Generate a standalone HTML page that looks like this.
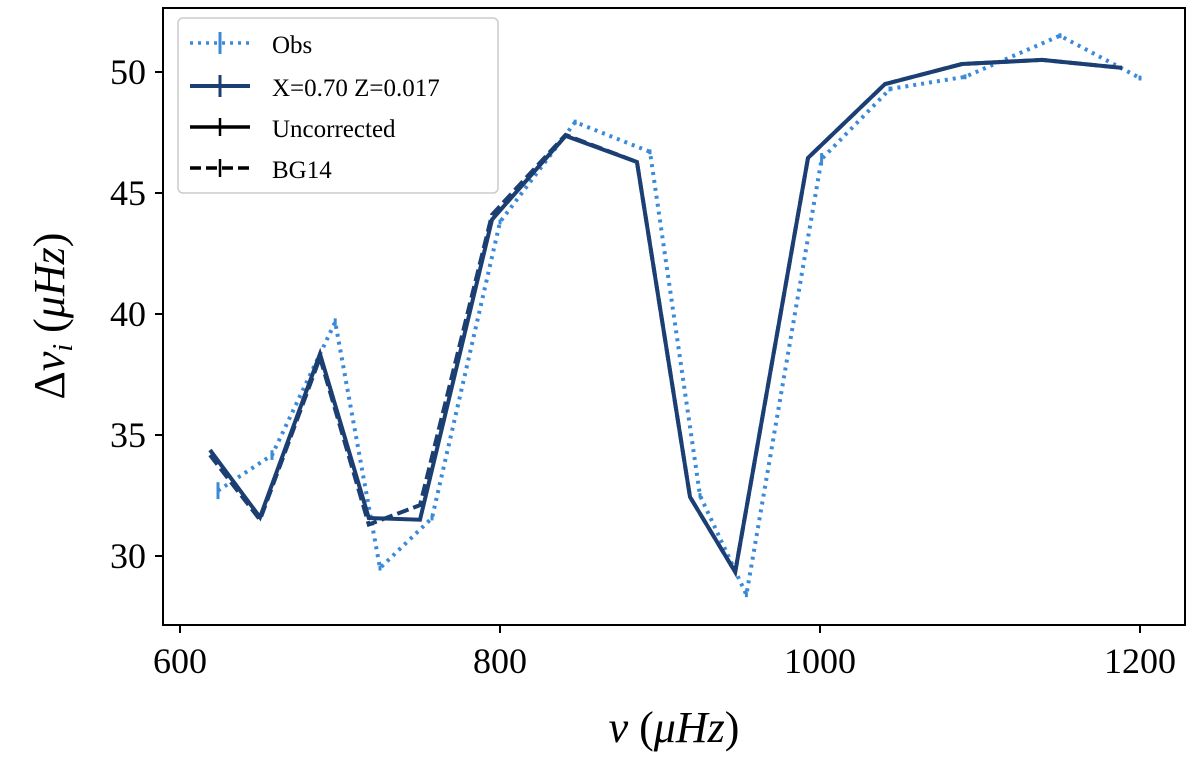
<!DOCTYPE html>
<html><head><meta charset="utf-8"><style>
body{margin:0;background:#fff}
svg text{font-family:"Liberation Serif","DejaVu Serif",serif;fill:#000}
</style></head><body>
<svg id="chart" width="1200" height="755" viewBox="0 0 1200 755" xmlns="http://www.w3.org/2000/svg">
<g id="plot"></g>
<rect x="163" y="8" width="1022" height="617" fill="none" stroke="#000" stroke-width="2"/>
<g id="ticks"></g>
<text x="674" y="742" font-size="44" text-anchor="middle"><tspan font-style="italic">ν</tspan>  (<tspan font-style="italic">μHz</tspan>)</text>
<text transform="translate(64,316) rotate(-90)" font-size="44" text-anchor="middle">Δ<tspan font-style="italic">ν</tspan><tspan font-style="italic" font-size="28" dy="8">i</tspan><tspan dy="-8">  (</tspan><tspan font-style="italic">μHz</tspan>)</text>
<g>
<rect x="178" y="18" width="320" height="175" rx="5" fill="#fff" stroke="#ccc" stroke-width="1.5"/>
<g><line x1="190" y1="43" x2="250" y2="43" stroke="#3a8ad8" stroke-width="3.5" stroke-dasharray="3,5"/><line x1="220" y1="32" x2="220" y2="54" stroke="#3a8ad8" stroke-width="3"/><text x="272" y="53" font-size="25">Obs</text></g>
<g><line x1="190" y1="86" x2="250" y2="86" stroke="#1b3f73" stroke-width="4"/><line x1="220" y1="75" x2="220" y2="97" stroke="#1b3f73" stroke-width="3"/><text x="272" y="96" font-size="25">X=0.70 Z=0.017</text></g>
<g><line x1="190" y1="127" x2="250" y2="127" stroke="#000" stroke-width="3.5"/><line x1="220" y1="118" x2="220" y2="136" stroke="#000" stroke-width="2.5"/><text x="272" y="137" font-size="25">Uncorrected</text></g>
<g><line x1="190" y1="168" x2="250" y2="168" stroke="#000" stroke-width="3.5" stroke-dasharray="11,5"/><line x1="220" y1="159" x2="220" y2="177" stroke="#000" stroke-width="2.5"/><text x="272" y="178" font-size="25">BG14</text></g>
</g>
</svg>
<script>
const modelFreq=[618.75,650,687.5,718,750,795,841,885.6,918.75,947,992.5,1040.6,1088.75,1138.75,1188.75];
const modelUncorr=[34.38,31.6,38.35,31.57,31.5,43.9,47.36,46.28,32.44,29.34,46.45,49.5,50.33,50.5,50.17];
const modelBG14=[34.17,31.5,38.2,31.3,32.1,44.1,47.4,46.28,32.44,29.34,46.45,49.5,50.33,50.5,50.17];
const obsFreq=[623.75,657.5,697,725,757.5,800,847,893.75,925,954,1001,1043.75,1090.6,1150,1200];
const obsVal=[32.7,34.17,39.67,29.5,31.57,43.8,47.93,46.7,32.5,28.4,46.4,49.3,49.8,51.5,49.75];
const obsErr=[0.35,0.2,0.15,0.1,0.1,0.1,0.1,0.1,0.1,0.1,0.25,0.1,0.1,0.1,0.1];
const xTicks=[600,800,1000,1200];
const yTicks=[30,35,40,45,50];
const NS="http://www.w3.org/2000/svg";
const X=v=>180+(v-600)*1.6, Y=d=>556-(d-30)*24.2;
const plot=document.getElementById('plot'), ticks=document.getElementById('ticks');
function mk(tag,attrs,parent){const e=document.createElementNS(NS,tag);for(const k in attrs)e.setAttribute(k,attrs[k]);parent.appendChild(e);return e;}
function line(xs,ys,style,name){
 const p=mk('polyline',Object.assign({points:xs.map((v,i)=>X(v)+','+Y(ys[i])).join(' '),fill:'none','stroke-linejoin':'miter'},style),plot);
 
 
}
line(obsFreq,obsVal,{stroke:'#3a8ad8','stroke-width':4,'stroke-dasharray':'3,5'},'obs-line');
obsFreq.forEach((v,i)=>{const e=mk('line',{x1:X(v),x2:X(v),y1:Y(obsVal[i]+obsErr[i]),y2:Y(obsVal[i]-obsErr[i]),stroke:'#3a8ad8','stroke-width':3},plot);
 
 });
line(modelFreq,modelBG14,{stroke:'#1b3f73','stroke-width':4,'stroke-dasharray':'12,5'},'bg14-line');
line(modelFreq,modelUncorr,{stroke:'#1b3f73','stroke-width':4},'uncorrected-line');
xTicks.forEach(t=>{mk('line',{x1:X(t),x2:X(t),y1:625,y2:633,stroke:'#000','stroke-width':2},ticks);
 const tx=mk('text',{x:X(t),y:673,'font-size':36,'text-anchor':'middle'},ticks);tx.textContent=t;
 
 });
yTicks.forEach(t=>{mk('line',{x1:155,x2:163,y1:Y(t),y2:Y(t),stroke:'#000','stroke-width':2},ticks);
 const tx=mk('text',{x:146,y:Y(t)+12,'font-size':36,'text-anchor':'end'},ticks);tx.textContent=t;
 
 });
</script>
</body></html>
